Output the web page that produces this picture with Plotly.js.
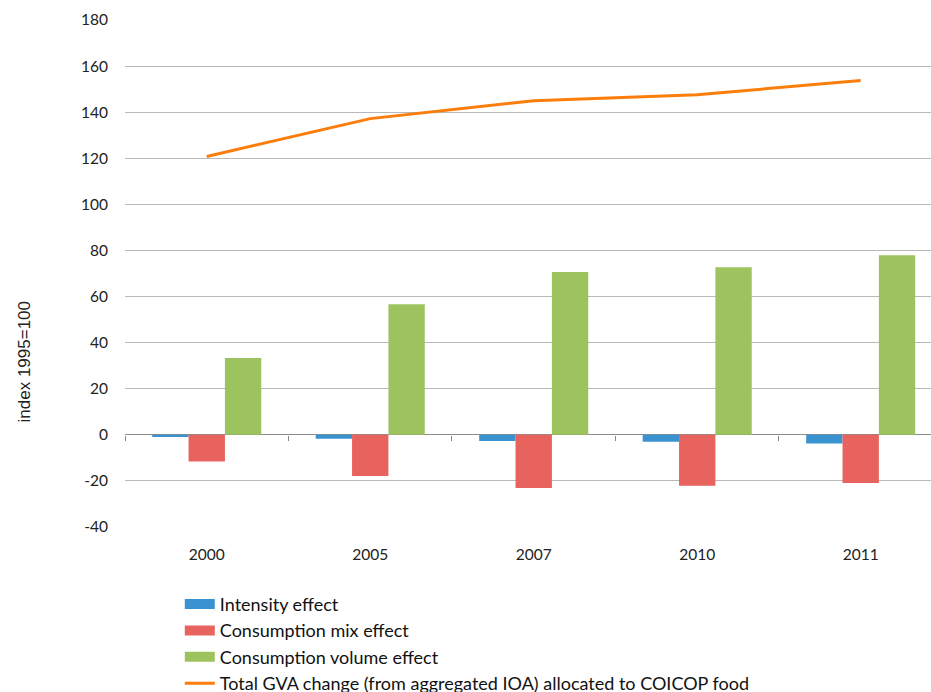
<!DOCTYPE html>
<html>
<head>
<meta charset="utf-8">
<script src="https://cdn.plot.ly/plotly-3.0.1.min.js"></script>
<style>html,body{margin:0;padding:0;background:#fff;}#chart{width:931px;height:692px;}</style>
</head>
<body>
<div id="chart"></div>
<script>
var years = ['2000', '2005', '2007', '2010', '2011'];
var intensityEffect = [-1.0, -1.7, -2.7, -3.0, -3.8];
var mixEffect = [-11.6, -17.9, -23.1, -22.1, -20.9];
var volumeEffect = [33.3, 56.7, 70.6, 72.7, 77.9];
var totalGVA = [120.8, 137.2, 145.0, 147.6, 153.7];
var yTicks = [-40, -20, 0, 20, 40, 60, 80, 100, 120, 140, 160, 180];
var yTickText = ['-40', '-20', '0', '20', '40', '60', '80', '100', '120', '140', '160', '180'];
var seriesNames = ['Intensity effect', 'Consumption mix effect', 'Consumption volume effect',
                   'Total GVA change (from aggregated IOA) allocated to COICOP food'];
var colors = ['#3a93d1', '#e8635e', '#9dc35f', '#fb7d0c'];

var font = 'Lato, "Open Sans", sans-serif';
var nulls = years.map(function () { return null; });
var traces = [
  {type: 'bar', name: seriesNames[0], x: years, y: intensityEffect, marker: {color: colors[0]}, showlegend: false},
  {type: 'bar', name: seriesNames[1], x: years, y: mixEffect, marker: {color: colors[1]}, showlegend: false},
  {type: 'bar', name: seriesNames[2], x: years, y: volumeEffect, marker: {color: colors[2]}, showlegend: false},
  {type: 'scatter', mode: 'lines', name: seriesNames[3], x: years, y: totalGVA, line: {color: colors[3], width: 3}, showlegend: false},
  {type: 'scatter', mode: 'lines', x: years, y: nulls, xaxis: 'x2', showlegend: false, hoverinfo: 'skip'}
];
// legend entries (bars shown as wide swatches)
for (var i = 0; i < 4; i++) {
  traces.push({type: 'scatter', mode: 'lines', name: seriesNames[i], x: years, y: nulls,
               line: {color: colors[i], width: i < 3 ? 10 : 3}, showlegend: true});
}
var layout = {
  width: 931, height: 692,
  margin: {l: 125, r: 0, t: 20, b: 165, autoexpand: false},
  paper_bgcolor: '#fff', plot_bgcolor: '#fff',
  barmode: 'group', bargap: 0.333, bargroupgap: 0,
  font: {family: font, size: 15.5, color: '#222'},
  xaxis: {type: 'category', range: [-0.5, 4.43], showgrid: false, zeroline: false, showline: false,
          ticks: '', ticklabelstandoff: 16, tickfont: {family: font, size: 15.5, color: '#222'}},
  xaxis2: {type: 'category', overlaying: 'x', matches: 'x', anchor: 'free', position: 40/220,
           range: [-0.5, 4.43], showgrid: false, zeroline: false, showline: false, showticklabels: false,
           ticks: 'outside', tickson: 'boundaries', ticklen: 5, tickcolor: '#888', tickwidth: 1},
  yaxis: {range: [-40, 180], tickvals: yTicks, ticktext: yTickText, showgrid: true, gridcolor: '#b8b8b8', gridwidth: 1,
          zeroline: true, zerolinecolor: '#8c8c8c', zerolinewidth: 1.2, showline: false, ticks: '',
          ticklabelstandoff: 16, tickfont: {family: font, size: 15.5, color: '#222'}},
  annotations: [{text: 'index 1995=100', xref: 'paper', yref: 'paper', x: -0.125, y: 0.325,
                 xanchor: 'center', yanchor: 'middle', textangle: -90, showarrow: false,
                 font: {family: '"Liberation Sans", Arial, sans-serif', size: 17, color: '#222'}}],
  legend: {orientation: 'v', x: 0.068, xanchor: 'left', y: -0.116, yanchor: 'top',
           font: {family: font, size: 18, color: '#111'}, tracegroupgap: 0, itemwidth: 30,
           bgcolor: 'rgba(0,0,0,0)'},
  showlegend: true
};
Plotly.newPlot('chart', traces, layout, {displayModeBar: false, staticPlot: true});
</script>
</body>
</html>
